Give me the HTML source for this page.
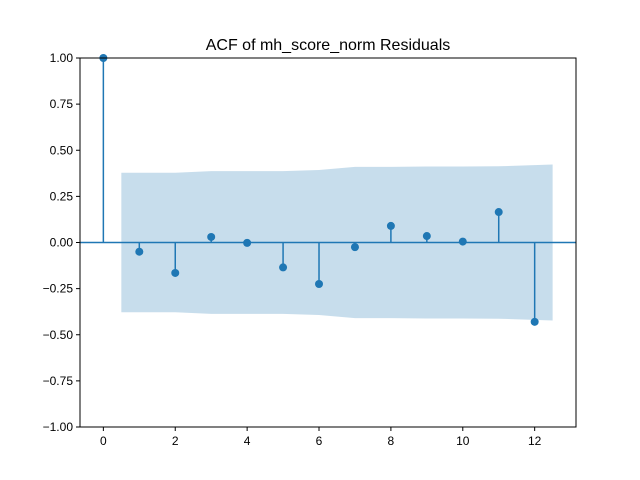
<!DOCTYPE html>
<html><head><meta charset="utf-8"><style>body{margin:0;background:#fff}svg{display:block;font-family:"Liberation Sans","DejaVu Sans",sans-serif}</style></head>
<body>
<svg id="chart" width="640" height="480">
<rect width="640" height="480" fill="#fff"/>
<text x="328" y="50" text-anchor="middle" font-size="16">ACF of mh_score_norm Residuals</text>
<g id="plot"></g>
</svg>
<script>
const lags = [0,1,2,3,4,5,6,7,8,9,10,11,12];
const acfValues = [1,-0.05,-0.165,0.03,-0.002,-0.135,-0.225,-0.025,0.09,0.035,0.005,0.165,-0.43];
const confBand = [0.378,0.378,0.387,0.387,0.387,0.393,0.41,0.41,0.412,0.412,0.413,0.423];
const xTicks = [0,2,4,6,8,10,12];
const yTicks = [-1,-0.75,-0.5,-0.25,0,0.25,0.5,0.75,1];
const L=80,R=576,T=58,B=427, xMin=-0.65,xMax=13.15,yMin=-1,yMax=1;
const xs=v=>L+(v-xMin)/(xMax-xMin)*(R-L);
const ys=v=>B-(v-yMin)/(yMax-yMin)*(B-T);
const g=document.getElementById('plot');
const NS='http://www.w3.org/2000/svg';
function mk(t,a){const e=document.createElementNS(NS,t);for(const k in a)e.setAttribute(k,a[k]);g.appendChild(e);return e;}
// band
const n=confBand.length;
const bx=confBand.map((c,i)=>i===0?lags[1]-0.5:(i===n-1?lags[n]+0.5:lags[i+1]));
let d='M'+bx.map((x,i)=>xs(x)+','+ys(confBand[i])).join('L');
for(let i=n-1;i>=0;i--)d+='L'+xs(bx[i])+','+ys(-confBand[i]);
const band=mk('path',{d:d+'Z',fill:'#1f77b4','fill-opacity':0.25});


// zero line
const zl=mk('line',{x1:L,x2:R,y1:ys(0),y2:ys(0),stroke:'#1f77b4','stroke-width':1.5});


lags.forEach((l,i)=>{
 const s=mk('line',{x1:xs(l),x2:xs(l),y1:ys(0),y2:ys(acfValues[i]),stroke:'#1f77b4','stroke-width':1.5});
 
 
 const c=mk('circle',{cx:xs(l),cy:ys(acfValues[i]),r:4,fill:'#1f77b4'});
 
 
});
const fr=mk('rect',{x:L,y:T,width:R-L,height:B-T,fill:'none',stroke:'#000','stroke-width':1});


xTicks.forEach(t=>{
 mk('line',{x1:xs(t),x2:xs(t),y1:B,y2:B+4,stroke:'#000'});
 const tx=mk('text',{x:xs(t),y:B+18,'text-anchor':'middle','font-size':12});
 tx.textContent=t;
 
 
});
yTicks.forEach(t=>{
 mk('line',{x1:L-4,x2:L,y1:ys(t),y2:ys(t),stroke:'#000'});
 const tx=mk('text',{x:L-7,y:ys(t)+4,'text-anchor':'end','font-size':12});
 tx.textContent=(t<0?'\u2212':'')+Math.abs(t).toFixed(2);
 
 
});
</script>
</body></html>
